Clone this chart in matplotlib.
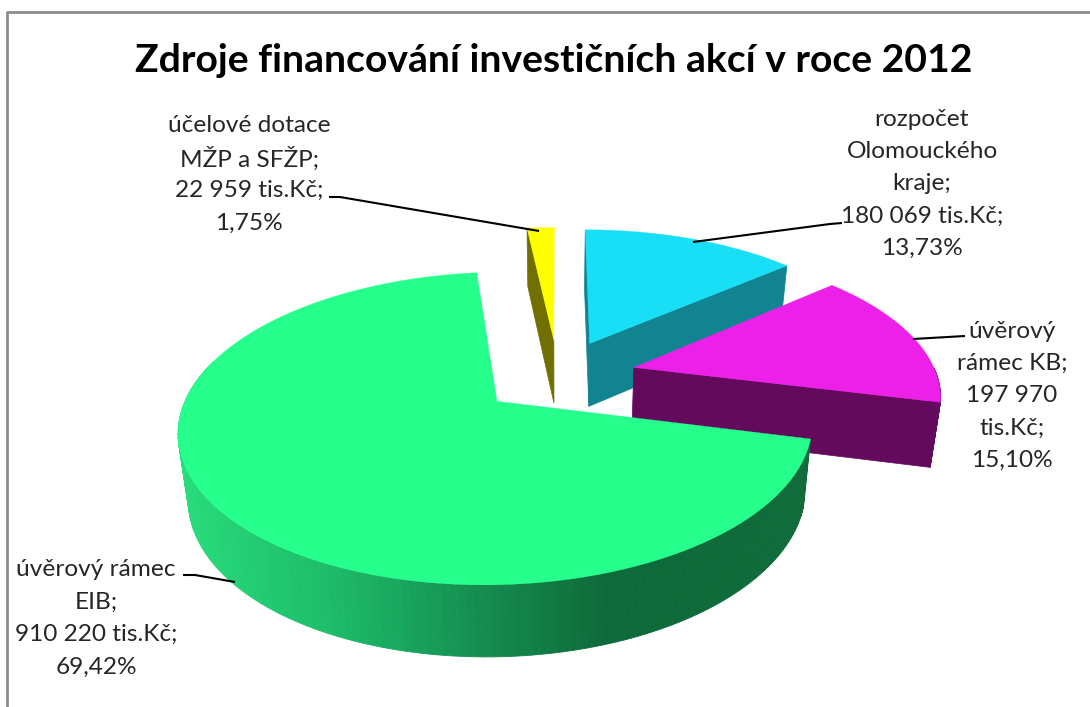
import numpy as np
import matplotlib
matplotlib.use("Agg")
import matplotlib.pyplot as plt
from matplotlib.colors import LinearSegmentedColormap

# data, clockwise from 12 o'clock
names = ["rozpočet\nOlomouckého\nkraje", "úvěrový\nrámec KB", "úvěrový rámec\nEIB", "účelové dotace\nMŽP a SFŽP"]
values = [180069, 197970, 910220, 22959]
value_labels = ["180 069 tis.Kč", "197 970\ntis.Kč", "910 220 tis.Kč", "22 959 tis.Kč"]
pct_labels = ["13,73%", "15,10%", "69,42%", "1,75%"]
top_colors = ["#19DFF6", "#EC20E9", "#27FF8C", "#FFFF00"]
side_colors = ["#128390", "#630A5C", "#106B3A", "#706F00"]

plt.rcParams["font.family"] = ["Lato", "DejaVu Sans"]

# pie projection settings (pixels)
cx, cy = 558, 376
rad_x, rad_y = 303, 143
persp = 0.169
explode = 0.26
TEXT = "#262626"

fig = plt.figure(figsize=(10.9, 7.07), dpi=100)
ax = fig.add_axes([0, 0, 1, 1])
ax.set_xlim(0, 1090)
ax.set_ylim(707, 0)
ax.axis("off")

# frame only shows on top and left
ax.plot([7, 7, 1090], [707, 12, 12], color="#8C8C8C", lw=2)


def project(u, v):
    s = 1 / (1 + persp * v)
    return cx + rad_x * u * s, cy - rad_y * v * s


def lower(x, y):
    # bottom of the pie is a bit narrower and the depth grows to the front
    return cx + (x - cx) * 0.973, y + 63 + 0.038 * (y - 347)


def slice_outline(a0, a1):
    mid = np.radians((a0 + a1) / 2)
    ou, ov = explode * np.sin(mid), explode * np.cos(mid)
    t = np.radians(np.linspace(a0, a1, 200))
    xr, yr = project(ou + np.sin(t), ov + np.cos(t))
    xa, ya = project(ou, ov)
    return xr, yr, xa, ya


edges = np.cumsum([0] + values) / sum(values) * 360
green_ramp = LinearSegmentedColormap.from_list(
    "ramp", [(0, "#27DC7B"), (0.25, "#1DBA68"), (0.486, "#158C50"), (0.68, "#0E6A3A"), (1, "#106B3A")])
# which radial walls can be seen (start, end)
walls = [(True, True), (False, True), (False, False), (True, False)]

for i in range(len(values)):
    xr, yr, xa, ya = slice_outline(edges[i], edges[i + 1])
    xrb, yrb = lower(xr, yr)
    xab, yab = lower(xa, ya)
    z = 1 + i
    if walls[i][0]:
        ax.fill([xa, xr[0], xrb[0], xab], [ya, yr[0], yrb[0], yab], color=side_colors[i], lw=0.5, zorder=z)
    if walls[i][1]:
        ax.fill([xa, xr[-1], xrb[-1], xab], [ya, yr[-1], yrb[-1], yab], color=side_colors[i], lw=0.5, zorder=z)
    # rim, only the part that faces the viewer
    ang = np.linspace(edges[i], edges[i + 1], 200)
    for j in range(len(ang) - 1):
        if not 90 < ang[j] < 285:
            continue
        if i == 2:
            col = green_ramp(np.clip((xr[j] - 178) / (812 - 178), 0, 1))
        else:
            col = side_colors[i]
        ax.fill([xr[j], xr[j + 1], xrb[j + 1], xrb[j]], [yr[j], yr[j + 1], yrb[j + 1], yrb[j]],
                color=col, lw=0.6, zorder=z)
    ax.fill(np.r_[xa, xr], np.r_[ya, yr], color=top_colors[i], lw=0.2, zorder=z + 0.5)

# yellow sits behind everything else
for p in ax.patches:
    if p.get_zorder() >= 4:
        p.set_zorder(p.get_zorder() - 4)

# leader lines
leaders = [
    ([842, 830, 693], [223, 224, 242]),
    ([965, 913], [336, 339]),
    ([183, 195, 235], [575, 575, 582]),
    ([329, 340, 539], [197, 197, 231]),
]
for lx, ly in leaders:
    ax.plot(lx, ly, color="black", lw=1.5, zorder=8, solid_capstyle="butt")

ax.text(554, 61, "Zdroje financování investičních akcí v roce 2012", ha="center", va="center",
        fontsize=28.2, fontweight="bold", color="black")

# data labels: centre x, y of first line
label_pos = [(922, 119), (1012, 331), (96, 570), (249, 126)]
line_h = 32.3
for i in range(len(values)):
    lines = (names[i] + ";\n" + value_labels[i] + ";\n" + pct_labels[i]).split("\n")
    for k, line in enumerate(lines):
        ax.text(label_pos[i][0], label_pos[i][1] + k * line_h, line, ha="center", va="center",
                fontsize=17.6, color=TEXT, zorder=9)

fig.savefig("out.png", dpi=100)
